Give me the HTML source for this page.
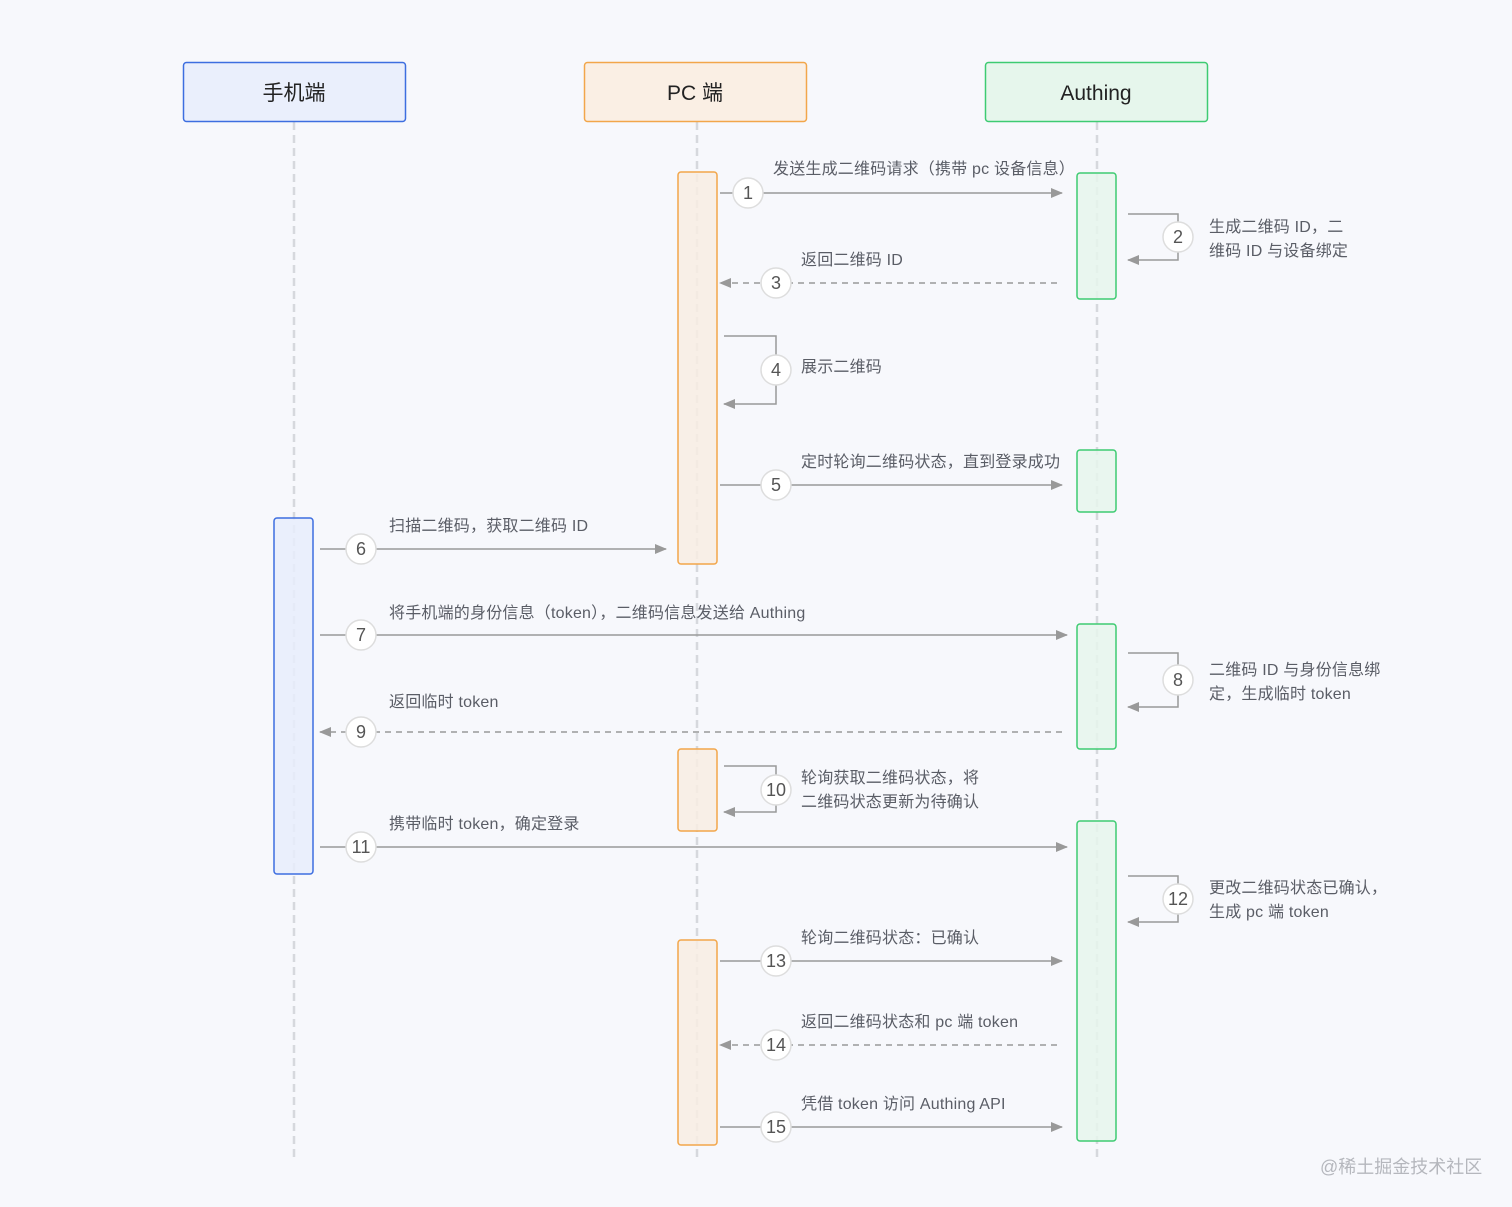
<!DOCTYPE html>
<html><head><meta charset="utf-8"><style>
html,body{margin:0;padding:0;background:#f7f8fc;}
svg{display:block;font-family:"Liberation Sans","Noto Sans CJK SC",sans-serif;}
.l{font-size:16px;fill:#5a5d66;letter-spacing:0.2px;}
.n{font-size:18px;fill:#555;text-anchor:middle;}
</style></head><body>
<svg width="1512" height="1207" viewBox="0 0 1512 1207" xmlns="http://www.w3.org/2000/svg">
<defs>
<marker id="a" markerWidth="12" markerHeight="10" refX="11" refY="5" orient="auto" markerUnits="userSpaceOnUse"><path d="M0,0 L12,5 L0,10 z" fill="#999"/></marker>
</defs>
<rect width="1512" height="1207" fill="#f7f8fc"/>
<g stroke="#d6d8dd" stroke-width="2.5" stroke-dasharray="8,5">
<line x1="294" y1="122" x2="294" y2="1162"/>
<line x1="697" y1="122" x2="697" y2="1162"/>
<line x1="1097" y1="122" x2="1097" y2="1162"/>
</g>
<rect x="183.5" y="62.5" width="222" height="59" rx="3" fill="#eaeffc" stroke="#3d6ee0" stroke-width="1.5"/>
<rect x="584.5" y="62.5" width="222" height="59" rx="3" fill="#faefe4" stroke="#f2a64a" stroke-width="1.5"/>
<rect x="985.5" y="62.5" width="222" height="59" rx="3" fill="#e6f6ec" stroke="#3ecb72" stroke-width="1.5"/>
<g font-size="21" fill="#222" text-anchor="middle">
<text x="294" y="100">手机端</text><text x="695" y="100">PC 端</text><text x="1096" y="100">Authing</text>
</g>
<g fill="#f8ede3" fill-opacity="0.85" stroke="#f2a64a" stroke-width="1.5">
<rect x="678" y="172" width="39" height="392" rx="3"/>
<rect x="678" y="749" width="39" height="82" rx="3"/>
<rect x="678" y="940" width="39" height="205" rx="3"/>
</g>
<g fill="#e6f6ec" fill-opacity="0.85" stroke="#3ecb72" stroke-width="1.5">
<rect x="1077" y="173" width="39" height="126" rx="3"/>
<rect x="1077" y="450" width="39" height="62" rx="3"/>
<rect x="1077" y="624" width="39" height="125" rx="3"/>
<rect x="1077" y="821" width="39" height="320" rx="3"/>
</g>
<rect x="274" y="518" width="39" height="356" rx="3" fill="#e8edfb" fill-opacity="0.85" stroke="#3d6ee0" stroke-width="1.5"/>
<g stroke="#999" stroke-width="1.5" fill="none">
<line x1="720" y1="193" x2="1062" y2="193" marker-end="url(#a)"/>
<polyline points="1128,214 1178,214 1178,260 1128,260" marker-end="url(#a)"/>
<line x1="1057" y1="283" x2="720" y2="283" stroke-dasharray="6,5" marker-end="url(#a)"/>
<polyline points="724,336 776,336 776,404 724,404" marker-end="url(#a)"/>
<line x1="720" y1="485" x2="1062" y2="485" marker-end="url(#a)"/>
<line x1="320" y1="549" x2="666" y2="549" marker-end="url(#a)"/>
<line x1="320" y1="635" x2="1067" y2="635" marker-end="url(#a)"/>
<polyline points="1128,653 1178,653 1178,707 1128,707" marker-end="url(#a)"/>
<line x1="1062" y1="732" x2="320" y2="732" stroke-dasharray="6,5" marker-end="url(#a)"/>
<polyline points="724,766 776,766 776,812 724,812" marker-end="url(#a)"/>
<line x1="320" y1="847" x2="1067" y2="847" marker-end="url(#a)"/>
<polyline points="1128,876 1178,876 1178,922 1128,922" marker-end="url(#a)"/>
<line x1="720" y1="961" x2="1062" y2="961" marker-end="url(#a)"/>
<line x1="1057" y1="1045" x2="720" y2="1045" stroke-dasharray="6,5" marker-end="url(#a)"/>
<line x1="720" y1="1127" x2="1062" y2="1127" marker-end="url(#a)"/>
</g>
<g fill="#fff" stroke="#ddd" stroke-width="1.5">
<circle cx="748" cy="193" r="15"/><circle cx="1178" cy="237" r="15"/><circle cx="776" cy="283" r="15"/>
<circle cx="776" cy="370" r="15"/><circle cx="776" cy="485" r="15"/><circle cx="361" cy="549" r="15"/>
<circle cx="361" cy="635" r="15"/><circle cx="1178" cy="680" r="15"/><circle cx="361" cy="732" r="15"/>
<circle cx="776" cy="790" r="15"/><circle cx="361" cy="847" r="15"/><circle cx="1178" cy="899" r="15"/>
<circle cx="776" cy="961" r="15"/><circle cx="776" cy="1045" r="15"/><circle cx="776" cy="1127" r="15"/>
</g>
<g>
<text x="748" y="199" class="n">1</text><text x="1178" y="243" class="n">2</text><text x="776" y="289" class="n">3</text>
<text x="776" y="376" class="n">4</text><text x="776" y="491" class="n">5</text><text x="361" y="555" class="n">6</text>
<text x="361" y="641" class="n">7</text><text x="1178" y="686" class="n">8</text><text x="361" y="738" class="n">9</text>
<text x="776" y="796" class="n">10</text><text x="361" y="853" class="n">11</text><text x="1178" y="905" class="n">12</text>
<text x="776" y="967" class="n">13</text><text x="776" y="1051" class="n">14</text><text x="776" y="1133" class="n">15</text>
</g>
<g>
<text x="773" y="174" class="l">发送生成二维码请求（携带 pc 设备信息）</text>
<text x="1209" y="232" class="l">生成二维码 ID，二</text><text x="1209" y="256" class="l">维码 ID 与设备绑定</text>
<text x="801" y="265" class="l">返回二维码 ID</text>
<text x="801" y="372" class="l">展示二维码</text>
<text x="801" y="467" class="l">定时轮询二维码状态，直到登录成功</text>
<text x="389" y="531" class="l">扫描二维码，获取二维码 ID</text>
<text x="389" y="618" class="l">将手机端的身份信息（token），二维码信息发送给 Authing</text>
<text x="1209" y="675" class="l">二维码 ID 与身份信息绑</text><text x="1209" y="699" class="l">定，生成临时 token</text>
<text x="389" y="707" class="l">返回临时 token</text>
<text x="801" y="783" class="l">轮询获取二维码状态，将</text><text x="801" y="807" class="l">二维码状态更新为待确认</text>
<text x="389" y="829" class="l">携带临时 token，确定登录</text>
<text x="1209" y="893" class="l">更改二维码状态已确认，</text><text x="1209" y="917" class="l">生成 pc 端 token</text>
<text x="801" y="943" class="l">轮询二维码状态：已确认</text>
<text x="801" y="1027" class="l">返回二维码状态和 pc 端 token</text>
<text x="801" y="1109" class="l">凭借 token 访问 Authing API</text>
</g>
<text x="1320" y="1173" font-size="18" fill="#b5b7bd">@稀土掘金技术社区</text>
</svg>
</body></html>
